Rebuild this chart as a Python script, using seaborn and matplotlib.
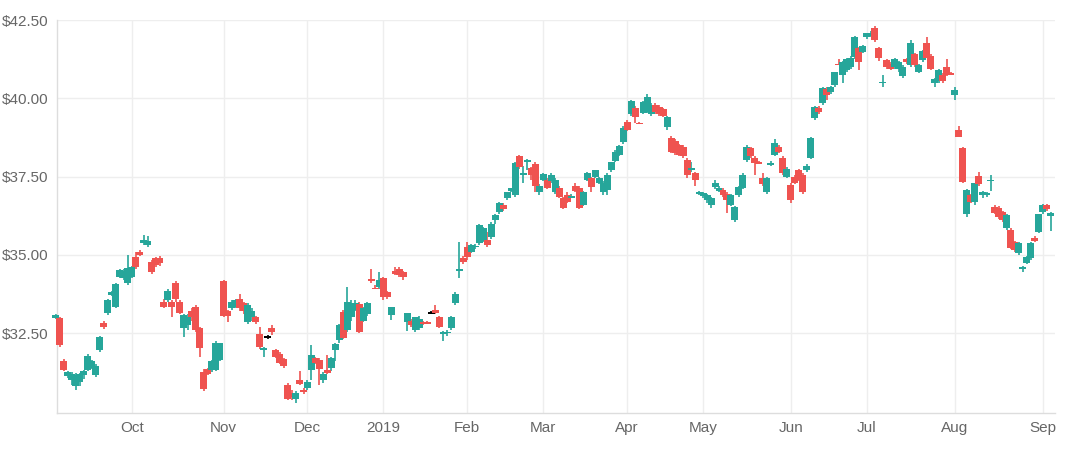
import numpy as np
import pandas as pd
import matplotlib
matplotlib.use("Agg")
import matplotlib.pyplot as plt
import seaborn as sns

# trading days: NYSE holidays out, plus a few days the series does not have
holidays = ['2018-11-22', '2018-12-05', '2018-12-25', '2019-01-01', '2019-01-21',
            '2019-02-18', '2019-04-19', '2019-05-27', '2019-07-04', '2019-09-02']
missing = ['2019-04-22', '2019-04-23', '2019-06-14']
days = pd.bdate_range('2018-09-04', '2019-09-05')
days = days[~days.isin(pd.to_datetime(holidays + missing))]

opens = [32.98, 32.98, 31.61, 31.14, 31.00, 30.80, 30.95, 31.15, 31.33, 31.40,
         31.17, 31.96, 32.84, 33.13, 33.72, 33.35, 34.30, 34.25, 34.09, 34.28,
         34.94, 35.10, 35.37, 35.30, 34.78, 34.89, 34.90, 33.50, 33.55, 33.50,
         34.10, 33.50, 32.67, 32.75, 33.20, 33.35, 32.66, 31.27, 31.36, 31.33,
         31.33, 31.64, 34.17, 33.20, 33.30, 33.35, 33.60, 33.45, 32.85, 33.00,
         33.00, 32.47, 31.95, 32.38, 32.65, 31.95, 31.85, 31.67, 30.85, 30.60,
         30.40, 31.00, 30.70, 30.75, 31.33, 31.70, 31.64, 31.00, 31.33, 31.40,
         31.96, 32.28, 33.17, 32.60, 33.00, 33.25, 33.43, 32.90, 33.10, 34.22,
         33.98, 33.97, 34.25, 33.80, 33.08, 34.50, 34.55, 34.45, 32.85, 32.90,
         32.60, 32.65, 32.85, 32.85, 33.15, 33.25, 33.02, 32.50, 32.52, 32.67,
         33.47, 34.52, 34.90, 35.25, 35.10, 35.27, 35.38, 35.45, 35.47, 35.57,
         36.10, 36.37, 36.60, 36.80, 37.05, 36.90, 38.15, 37.58, 37.95, 37.77,
         37.90, 37.00, 37.40, 37.39, 37.35, 37.00, 37.14, 36.80, 36.90, 36.85,
         37.20, 37.15, 36.60, 37.40, 37.45, 37.50, 37.30, 37.00, 37.08, 37.70,
         38.00, 38.20, 38.60, 39.25, 39.50, 39.70, 39.22, 39.53, 39.57, 39.50,
         39.80, 39.72, 39.65, 39.08, 38.73, 38.65, 38.50, 38.45, 38.03, 37.72,
         37.60, 36.95, 36.88, 36.75, 36.60, 37.16, 37.05, 37.08, 36.95, 36.60,
         36.11, 36.90, 37.14, 38.03, 38.40, 38.10, 37.98, 37.45, 37.00, 37.91,
         38.19, 38.45, 38.10, 37.50, 37.23, 37.50, 37.70, 37.55, 37.70, 38.10,
         39.37, 39.70, 39.85, 40.30, 40.20, 40.42, 41.12, 40.74, 40.90, 41.00,
         41.32, 41.60, 41.48, 41.95, 42.00, 42.24, 41.60, 40.50, 41.22, 41.10,
         41.00, 40.95, 40.70, 41.25, 41.06, 41.40, 40.85, 41.22, 41.77, 41.35,
         40.50, 40.55, 40.75, 41.00, 40.82, 40.10, 38.99, 38.41, 36.30, 36.91,
         36.69, 37.52, 36.90, 36.92, 37.38, 36.53, 36.50, 36.37, 35.86, 35.80,
         35.41, 35.06, 34.58, 34.74, 34.90, 35.55, 35.73, 36.37, 36.60, 36.25]
highs = [33.12, 33.00, 31.66, 31.30, 31.25, 31.22, 31.22, 31.33, 31.85, 31.65,
         31.50, 32.42, 32.90, 33.60, 33.86, 34.10, 34.55, 34.55, 34.99, 34.65,
         35.10, 35.14, 35.65, 35.60, 34.82, 34.92, 34.95, 33.60, 33.90, 33.55,
         34.15, 33.55, 33.10, 33.10, 33.30, 33.40, 32.70, 31.37, 31.40, 31.65,
         32.25, 32.20, 34.20, 33.25, 33.55, 33.60, 33.75, 33.50, 33.45, 33.30,
         33.05, 32.70, 32.05, 32.45, 32.75, 32.00, 31.90, 31.70, 30.90, 30.70,
         30.65, 31.30, 30.75, 31.00, 32.12, 31.75, 31.70, 31.25, 31.80, 31.75,
         32.20, 32.80, 33.25, 33.97, 33.55, 33.55, 33.50, 33.35, 33.50, 34.55,
         34.05, 34.45, 34.30, 33.85, 33.35, 34.60, 34.62, 34.50, 33.15, 32.95,
         33.00, 33.05, 32.90, 32.88, 33.20, 33.40, 33.05, 32.58, 32.60, 33.05,
         33.80, 35.40, 34.95, 35.40, 35.35, 35.35, 36.00, 35.90, 35.72, 36.05,
         36.30, 36.70, 36.65, 37.00, 37.15, 37.95, 38.20, 37.85, 38.05, 37.80,
         37.95, 37.25, 37.60, 37.45, 37.62, 37.45, 37.20, 36.85, 37.00, 36.95,
         37.30, 37.20, 37.05, 37.65, 37.50, 37.72, 37.50, 37.35, 37.60, 37.98,
         38.35, 38.50, 39.10, 39.30, 39.95, 39.75, 39.25, 39.92, 40.14, 39.85,
         39.85, 39.78, 39.70, 39.45, 38.78, 38.70, 38.55, 38.50, 38.10, 37.95,
         37.65, 37.05, 37.00, 36.95, 36.85, 37.40, 37.20, 37.12, 37.00, 36.95,
         36.55, 37.20, 37.60, 38.50, 38.45, 38.15, 38.00, 37.60, 37.50, 38.00,
         38.70, 38.50, 38.15, 37.80, 37.30, 37.55, 37.75, 37.60, 37.90, 38.75,
         39.75, 39.75, 40.35, 40.35, 40.40, 40.85, 41.25, 41.20, 41.30, 41.35,
         42.00, 41.65, 41.70, 42.10, 42.15, 42.30, 41.65, 40.75, 41.25, 41.15,
         41.30, 41.20, 41.05, 41.30, 41.85, 41.45, 41.10, 41.55, 41.95, 41.40,
         40.65, 40.95, 40.80, 41.25, 40.85, 40.35, 39.10, 38.45, 37.10, 36.95,
         37.30, 37.65, 37.05, 37.00, 37.55, 36.58, 36.55, 36.40, 36.30, 35.85,
         35.45, 35.40, 34.65, 34.95, 35.40, 35.60, 36.32, 36.62, 36.62, 36.38]
lows = [32.95, 32.07, 31.30, 31.07, 30.85, 30.69, 30.80, 31.05, 31.30, 31.35,
        31.10, 31.90, 32.62, 33.08, 33.70, 33.30, 34.25, 34.20, 34.05, 34.25,
        34.55, 34.95, 35.33, 35.25, 34.40, 34.60, 34.65, 33.30, 33.50, 33.00,
        33.50, 33.10, 32.39, 32.60, 32.90, 32.55, 31.75, 30.65, 31.15, 31.25,
        31.30, 31.60, 33.00, 32.87, 33.25, 33.30, 33.20, 33.10, 32.80, 32.90,
        32.80, 32.00, 31.75, 32.30, 32.45, 31.70, 31.50, 31.40, 30.37, 30.35,
        30.27, 30.85, 30.55, 30.70, 31.00, 31.50, 30.83, 30.90, 31.20, 31.30,
        31.60, 32.20, 32.30, 32.55, 32.90, 33.20, 32.50, 32.85, 33.05, 34.10,
        33.90, 33.90, 33.55, 33.60, 32.92, 34.35, 34.30, 34.20, 32.58, 32.70,
        32.55, 32.60, 32.75, 32.78, 33.10, 33.10, 32.65, 32.25, 32.40, 32.60,
        33.40, 34.26, 34.70, 34.85, 35.05, 35.20, 35.33, 35.40, 35.25, 35.50,
        36.00, 36.30, 36.40, 36.75, 37.00, 36.85, 37.75, 37.30, 37.70, 37.40,
        37.00, 36.90, 37.35, 37.10, 37.30, 36.95, 36.80, 36.45, 36.65, 36.80,
        37.00, 36.45, 36.55, 37.35, 37.00, 37.45, 37.25, 36.90, 36.90, 37.65,
        37.95, 38.15, 38.55, 38.95, 39.45, 39.20, 39.18, 39.50, 39.52, 39.45,
        39.50, 39.45, 39.40, 38.98, 38.25, 38.20, 38.15, 38.10, 37.45, 37.65,
        37.20, 36.90, 36.80, 36.65, 36.50, 37.10, 37.00, 36.85, 36.35, 36.55,
        36.05, 36.85, 37.10, 37.95, 38.10, 37.55, 37.90, 37.20, 36.95, 37.85,
        38.15, 38.25, 37.55, 37.45, 36.65, 37.25, 37.35, 36.95, 37.65, 38.05,
        39.30, 39.50, 39.80, 39.95, 40.15, 40.35, 41.05, 40.50, 40.85, 40.95,
        41.25, 40.90, 41.45, 41.90, 41.95, 41.80, 41.20, 40.35, 40.95, 40.90,
        40.95, 40.85, 40.65, 41.10, 41.00, 41.00, 40.80, 41.15, 41.30, 40.90,
        40.35, 40.50, 40.50, 40.70, 40.75, 39.95, 38.75, 37.30, 36.20, 36.65,
        36.60, 37.20, 36.80, 36.85, 37.05, 36.30, 36.15, 36.05, 35.80, 35.20,
        35.10, 35.00, 34.45, 34.70, 34.85, 35.40, 35.70, 36.30, 36.40, 35.75]
closes = [33.08, 32.12, 31.33, 31.27, 31.20, 31.15, 31.18, 31.30, 31.77, 31.60,
          31.45, 32.39, 32.71, 33.56, 33.82, 34.06, 34.52, 34.50, 34.57, 34.60,
          34.62, 35.00, 35.48, 35.45, 34.46, 34.68, 34.75, 33.35, 33.85, 33.33,
          33.60, 33.13, 33.08, 33.00, 33.00, 32.60, 32.03, 30.72, 31.20, 31.60,
          32.18, 32.18, 33.05, 33.05, 33.50, 33.55, 33.30, 33.20, 33.40, 33.20,
          32.85, 32.06, 32.02, 32.38, 32.55, 31.75, 31.55, 31.45, 30.40, 30.45,
          30.60, 30.88, 30.62, 30.95, 31.80, 31.55, 31.36, 31.20, 31.23, 31.70,
          32.15, 32.76, 32.35, 33.50, 33.45, 33.45, 32.54, 33.30, 33.46, 34.15,
          33.93, 34.20, 33.65, 33.65, 33.33, 34.40, 34.35, 34.30, 33.15, 32.75,
          33.00, 32.95, 32.80, 32.80, 33.15, 33.15, 32.70, 32.55, 32.57, 33.00,
          33.75, 34.57, 34.77, 34.93, 35.30, 35.32, 35.95, 35.85, 35.30, 36.00,
          36.27, 36.65, 36.45, 37.00, 37.12, 37.93, 37.80, 37.62, 38.02, 37.55,
          37.20, 37.20, 37.58, 37.14, 37.55, 37.40, 36.85, 36.50, 36.70, 36.90,
          37.05, 36.50, 37.00, 37.60, 37.17, 37.70, 37.45, 37.30, 37.55, 37.95,
          38.30, 38.47, 39.05, 38.99, 39.90, 39.40, 39.20, 39.88, 40.04, 39.80,
          39.55, 39.50, 39.45, 39.40, 38.28, 38.25, 38.20, 38.15, 37.55, 37.78,
          37.40, 37.02, 36.97, 36.90, 36.80, 37.30, 37.15, 36.90, 36.75, 36.90,
          36.53, 37.17, 37.55, 38.44, 38.16, 37.93, 37.93, 37.26, 37.45, 37.94,
          38.57, 38.30, 37.60, 37.75, 36.75, 37.30, 37.40, 37.00, 37.85, 38.73,
          39.72, 39.55, 40.33, 40.10, 40.35, 40.84, 41.08, 41.16, 41.25, 41.30,
          41.96, 41.16, 41.67, 42.08, 42.10, 41.86, 41.30, 40.55, 41.00, 40.95,
          41.25, 41.15, 41.00, 41.15, 41.77, 41.06, 41.06, 41.50, 41.30, 40.95,
          40.60, 40.90, 40.55, 40.74, 40.78, 40.27, 38.77, 37.33, 37.07, 36.69,
          37.30, 37.26, 37.00, 36.98, 37.42, 36.33, 36.20, 36.11, 36.27, 35.22,
          35.16, 35.38, 34.62, 34.93, 35.38, 35.45, 36.30, 36.60, 36.45, 36.33]

n = min(len(days), len(opens))
df = pd.DataFrame({'date': days[:n], 'open': opens[:n], 'high': highs[:n],
                   'low': lows[:n], 'close': closes[:n]})
df['pos'] = np.arange(n)

up_color = '#26a69a'
down_color = '#ef5350'
df['color'] = np.where(df['close'] > df['open'], up_color,
                       np.where(df['close'] < df['open'], down_color, '#000000'))

sns.set_theme(style='whitegrid')
plt.rcParams['font.family'] = ['Liberation Sans', 'DejaVu Sans']

fig = plt.figure(figsize=(10.8, 4.49), dpi=100)
ax = fig.add_axes([57 / 1080, 1 - 413 / 449, (1055 - 57) / 1080, (413 - 20) / 449])

# wicks then bodies
ax.vlines(df['pos'], df['low'], df['high'], colors=df['color'], linewidth=1.2,
          zorder=2, clip_on=False)
body = (df['close'] - df['open']).abs().clip(lower=0.05)
bottom = df[['open', 'close']].min(axis=1)
bottom = np.where((df['close'] - df['open']).abs() < 0.05, bottom - 0.025, bottom)
ax.bar(df['pos'], body, bottom=bottom, width=1.75, color=df['color'],
       linewidth=0, zorder=3, clip_on=False)

# month ticks at the first trading day of each month
d = df['date']
first = df.groupby([d.dt.year, d.dt.month])['pos'].first()
tick_pos, tick_lab = [], []
for (yr, mo), p in list(first.items())[1:]:
    tick_pos.append(p)
    tick_lab.append(str(yr) if mo == 1 else d.iloc[p].strftime('%b'))

yticks = [32.5, 35, 37.5, 40, 42.5]
ax.set_xlim(0.3, 250.1)
ax.set_ylim(29.95, 42.5)
ax.set_xticks(tick_pos)
ax.set_xticklabels(tick_lab)
ax.set_yticks(yticks)
ax.set_yticklabels(['$%.2f' % v for v in yticks])

ax.grid(True, color='#eeeeee', linewidth=1)
ax.set_axisbelow(True)
for s in ['top', 'right']:
    ax.spines[s].set_visible(False)
for s in ['left', 'bottom']:
    ax.spines[s].set_color('#dddddd')
    ax.spines[s].set_linewidth(1)
ax.tick_params(axis='both', colors='#666666', labelsize=11, length=0, pad=6)
ax.set_facecolor('white')

fig.savefig('out.png', dpi=100)
